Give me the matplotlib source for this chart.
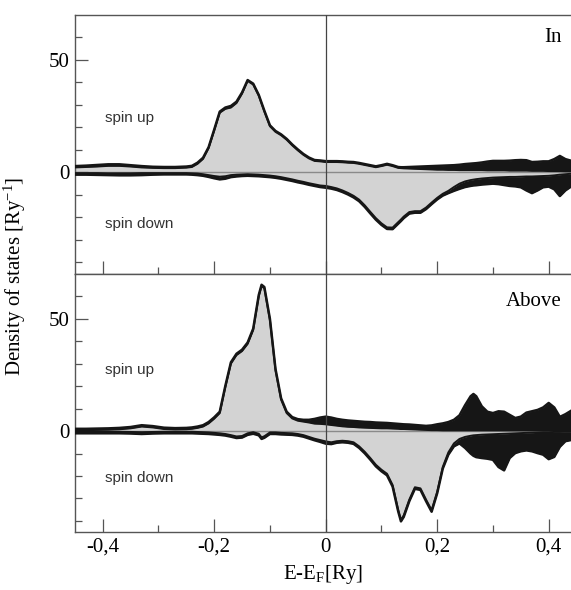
import matplotlib
matplotlib.use("Agg")
import matplotlib.pyplot as plt
import numpy as np

plt.rcParams["font.family"] = ["Liberation Serif", "DejaVu Serif"]
plt.rcParams["mathtext.fontset"] = "custom"
plt.rcParams["mathtext.rm"] = "Liberation Serif"
plt.rcParams["mathtext.it"] = "Liberation Serif:italic"

# energy grid E-E_F [Ry]
energy = [-0.45, -0.43, -0.41, -0.39, -0.37, -0.35, -0.33, -0.31, -0.29, -0.27,
          -0.25, -0.24, -0.23, -0.22, -0.21, -0.20, -0.19, -0.18, -0.17, -0.16,
          -0.15, -0.14, -0.13, -0.12, -0.115, -0.11, -0.10, -0.09, -0.08, -0.07,
          -0.06, -0.05, -0.04, -0.03, -0.02, -0.01, 0.00, 0.01, 0.02, 0.03,
          0.04, 0.05, 0.06, 0.07, 0.08, 0.09, 0.10, 0.11, 0.12, 0.13,
          0.135, 0.14, 0.15, 0.16, 0.17, 0.18, 0.19, 0.20, 0.21, 0.22,
          0.23, 0.24, 0.25, 0.26, 0.265, 0.27, 0.28, 0.29, 0.30, 0.31,
          0.32, 0.33, 0.34, 0.35, 0.36, 0.37, 0.38, 0.39, 0.40, 0.41,
          0.42, 0.43, 0.44]

# panel "In": partial (gray) and total (black) DOS
in_up_part = [2.2, 2.4, 2.6, 2.9, 2.9, 2.6, 2.2, 2.0, 1.9, 1.9,
              2.1, 2.4, 3.8, 6.0, 10.8, 18.5, 26.5, 28.2, 28.8, 30.8,
              35.0, 40.6, 39.0, 34.0, 30.5, 27.0, 20.5, 18.0, 16.5, 14.5,
              12.0, 9.8, 7.8, 6.2, 5.1, 4.9, 4.6, 4.6, 4.6, 4.5,
              4.3, 4.2, 3.8, 3.3, 2.8, 2.3, 2.8, 3.4, 2.8, 2.0,
              1.9, 1.8, 1.7, 1.6, 1.5, 1.4, 1.3, 1.2, 1.2, 1.1,
              1.1, 1.0, 1.0, 1.0, 1.0, 1.0, 1.0, 0.9, 0.9, 0.9,
              0.9, 0.8, 0.8, 0.8, 0.8, 0.7, 0.7, 0.7, 0.6, 0.6,
              0.6, 0.5, 0.5]
in_up_total = [2.8, 3.0, 3.3, 3.6, 3.6, 3.2, 2.8, 2.5, 2.4, 2.4,
               2.6, 2.9, 4.3, 6.5, 11.2, 19.0, 27.0, 28.8, 29.5, 31.4,
               35.5, 41.0, 39.4, 34.4, 30.9, 27.4, 20.9, 18.4, 16.9, 14.9,
               12.4, 10.2, 8.2, 6.6, 5.5, 5.3, 5.0, 5.0, 5.0, 4.9,
               4.7, 4.6, 4.2, 3.7, 3.2, 2.7, 3.2, 3.8, 3.2, 2.4,
               2.3, 2.3, 2.4, 2.5, 2.6, 2.7, 2.8, 2.9, 3.0, 3.1,
               3.2, 3.4, 3.7, 3.9, 4.0, 4.1, 4.4, 4.8, 5.1, 5.1,
               5.1, 5.2, 5.4, 5.5, 5.4, 4.6, 4.7, 4.9, 4.9, 5.9,
               7.3, 5.9, 5.2]
in_dn_part = [-0.3, -0.3, -0.3, -0.4, -0.4, -0.4, -0.3, -0.3, -0.3, -0.3,
              -0.3, -0.4, -0.5, -0.8, -1.2, -1.6, -1.9, -1.7, -1.2, -1.0,
              -0.9, -0.8, -0.9, -1.0, -1.1, -1.2, -1.4, -1.7, -2.1, -2.6,
              -3.1, -3.7, -4.2, -4.8, -5.3, -5.8, -6.0, -6.5, -7.1, -8.0,
              -9.1, -10.4, -12.1, -14.6, -17.5, -20.3, -22.6, -24.4, -24.5, -22.1,
              -20.9, -19.6, -17.6, -17.2, -17.2, -15.6, -13.4, -11.3, -9.5, -8.2,
              -6.5, -5.0, -4.0, -3.4, -3.2, -3.0, -2.7, -2.5, -2.3, -2.2,
              -2.1, -2.0, -2.0, -1.9, -1.8, -1.8, -1.7, -1.6, -1.5, -1.3,
              -1.0, -0.8, -0.6]
in_dn_total = [-1.0, -1.0, -1.1, -1.2, -1.3, -1.3, -1.2, -1.0, -0.9, -0.9,
               -0.9, -1.0, -1.2, -1.5, -2.0, -2.6, -3.1, -2.8, -2.1, -1.8,
               -1.6, -1.5, -1.6, -1.7, -1.8, -1.9, -2.1, -2.4, -2.8, -3.3,
               -3.8, -4.4, -4.9, -5.5, -6.0, -6.5, -6.8, -7.2, -7.8, -8.7,
               -9.8, -11.1, -12.8, -15.3, -18.2, -21.0, -23.3, -25.1, -25.2, -22.8,
               -21.6, -20.3, -18.3, -17.9, -17.9, -16.3, -14.1, -12.0, -10.3, -9.2,
               -8.2, -7.3, -6.5, -6.0, -5.8, -5.7, -5.4, -5.2, -5.0, -5.2,
               -5.6, -6.0, -6.2, -6.6, -8.0, -9.2, -8.0, -6.6, -6.3, -7.5,
               -10.5, -8.0, -6.3]

# panel "Above"
ab_up_part = [0.4, 0.4, 0.5, 0.6, 0.8, 1.2, 2.0, 1.6, 0.9, 0.7,
              0.8, 1.0, 1.4, 2.0, 3.4, 5.5, 8.0, 19.5, 30.0, 33.8,
              35.6, 38.8, 45.0, 60.0, 64.5, 63.5, 49.3, 27.0, 14.0, 8.0,
              5.6, 4.6, 4.2, 3.8, 3.3, 3.2, 3.0, 2.7, 2.4, 2.1,
              1.9, 1.8, 1.6, 1.5, 1.4, 1.3, 1.2, 1.2, 1.1, 1.0,
              0.9, 0.9, 0.8, 0.7, 0.6, 0.5, 0.4, 0.4, 0.3, 0.3,
              0.3, 0.3, 0.3, 0.3, 0.3, 0.3, 0.3, 0.3, 0.3, 0.3,
              0.3, 0.3, 0.3, 0.3, 0.3, 0.3, 0.3, 0.3, 0.3, 0.3,
              0.3, 0.3, 0.3]
ab_up_total = [1.0, 1.0, 1.1, 1.2, 1.4, 1.8, 2.6, 2.2, 1.5, 1.3,
               1.4, 1.6, 2.0, 2.6, 4.0, 6.1, 8.6, 20.1, 30.6, 34.4,
               36.2, 39.4, 45.6, 60.6, 65.1, 64.1, 49.9, 27.6, 14.6, 8.6,
               6.2, 5.3, 5.0, 5.0, 5.4, 6.0, 6.4, 6.0, 5.4, 5.0,
               4.7, 4.5, 4.3, 4.1, 4.0, 3.8, 3.7, 3.6, 3.4, 3.2,
               3.1, 3.0, 2.9, 2.7, 2.5, 2.3, 2.5, 3.0, 3.4, 4.0,
               5.0, 7.0, 11.5, 15.5, 16.5, 15.5, 11.0, 8.6, 8.0, 8.8,
               8.6, 7.2, 5.8, 6.4, 8.2, 8.8, 9.4, 10.5, 12.5, 10.5,
               6.3, 7.5, 9.0]
ab_dn_part = [-0.3, -0.3, -0.3, -0.3, -0.3, -0.4, -0.5, -0.4, -0.3, -0.3,
              -0.3, -0.3, -0.4, -0.5, -0.6, -0.8, -1.0, -1.3, -1.8, -2.4,
              -2.2, -1.0, -0.5, -1.2, -2.8, -2.3, -0.6, -0.6, -0.8, -0.9,
              -1.0, -1.3, -1.8, -2.6, -3.4, -4.0, -4.6, -5.0, -4.5, -4.3,
              -4.5, -5.0, -6.8, -9.2, -12.0, -15.0, -17.2, -19.0, -24.0, -35.0,
              -39.5, -37.5, -30.5, -25.0, -25.5, -30.5, -35.2, -27.0, -16.0, -9.5,
              -5.5, -3.5, -2.6, -2.1, -1.9, -1.8, -1.6, -1.5, -1.4, -1.3,
              -1.2, -1.1, -1.0, -0.9, -0.8, -0.7, -0.6, -0.5, -0.5, -0.4,
              -0.4, -0.3, -0.3]
ab_dn_total = [-1.0, -1.0, -1.0, -1.0, -1.0, -1.1, -1.3, -1.1, -1.0, -1.0,
               -1.0, -1.0, -1.1, -1.2, -1.3, -1.5, -1.7, -2.0, -2.5, -3.1,
               -2.9, -1.7, -1.2, -1.9, -3.5, -3.0, -1.3, -1.3, -1.5, -1.6,
               -1.7, -2.0, -2.5, -3.3, -4.1, -4.8, -5.6, -5.8, -5.2, -5.0,
               -5.2, -5.7, -7.5, -9.9, -12.7, -15.7, -17.9, -19.7, -24.7, -35.7,
               -40.2, -38.2, -31.2, -25.7, -26.2, -31.2, -35.9, -27.7, -16.7, -10.5,
               -6.8, -5.5, -7.5, -10.0, -11.0, -11.6, -12.0, -12.3, -12.8, -16.0,
               -17.5, -12.0, -9.8, -9.0, -8.6, -9.0, -9.8, -10.5, -12.5, -11.5,
               -7.0, -4.5, -4.0]

panel_names = ["In", "Above"]
xtick_pos = [-0.4, -0.2, 0.0, 0.2, 0.4]
xtick_labels = ["-0,4", "-0,2", "0", "0,2", "0,4"]

GRAY = "#d3d3d3"
DARK = "#161616"
SPINE = "#555555"

fig = plt.figure(figsize=(5.71, 5.90), dpi=100)
ax_top = fig.add_axes([0.131, 0.536, 0.869, 0.439])
ax_bot = fig.add_axes([0.131, 0.098, 0.869, 0.438])

panels = [
    (ax_top, in_up_part, in_up_total, in_dn_part, in_dn_total),
    (ax_bot, ab_up_part, ab_up_total, ab_dn_part, ab_dn_total),
]

x = np.array(energy)
for i, (ax, up_p, up_t, dn_p, dn_t) in enumerate(panels):
    for part, total in [(up_p, up_t), (dn_p, dn_t)]:
        part = np.array(part)
        total = np.array(total)
        ax.fill_between(x, 0, part, color=GRAY, lw=0, zorder=1)
        ax.fill_between(x, part, total, color=DARK, lw=0, zorder=3)
        ax.plot(x, total, color=DARK, lw=1.8, zorder=4, solid_joinstyle="round")
        ax.plot(x, part, color=DARK, lw=1.4, zorder=4, solid_joinstyle="round")
    ax.axhline(0, color="#8a8a8a", lw=1.0, zorder=2)
    ax.axvline(0, color="#444444", lw=0.9, zorder=5)

    ax.set_xlim(-0.45, 0.44)
    ax.set_ylim(-45, 70)
    ax.set_yticks([0, 50])
    ax.set_yticks(np.arange(-40, 70, 10), minor=True)
    ax.set_yticklabels(["0", "50"], fontsize=15)
    ax.set_xticks(xtick_pos)
    ax.set_xticks([-0.3, -0.1, 0.1, 0.3], minor=True)
    if i == 1:
        ax.set_xticklabels(xtick_labels, fontsize=15)
    else:
        ax.set_xticklabels([])
    ax.tick_params(which="major", direction="in", length=9.5, width=0.9,
                   color=SPINE, top=False, right=False, pad=4)
    ax.tick_params(which="minor", direction="in", length=5, width=0.9,
                   color=SPINE, top=False, right=False)
    for side, sp in ax.spines.items():
        sp.set_color(SPINE)
        sp.set_linewidth(1.0)
    ax.spines["right"].set_visible(False)

    ax.text(0.423, 60 if i == 0 else 57.5, panel_names[i], fontsize=15,
            ha="right", va="center")
    ax.text(-0.395, 24 if i == 0 else 27, "spin up", fontsize=11,
            family=["Liberation Sans", "DejaVu Sans"], color="#333333",
            ha="left", va="center")
    ax.text(-0.395, -23 if i == 0 else -21, "spin down", fontsize=11,
            family=["Liberation Sans", "DejaVu Sans"], color="#333333",
            ha="left", va="center")

fig.text(0.026, 0.532, "Density of states [Ry$^{-1}$]", rotation=90,
         fontsize=15, ha="center", va="center")
fig.text(0.566, 0.027, "E-E$_{\\mathrm{F}}$[Ry]", fontsize=15,
         ha="center", va="center")

fig.savefig("out.png", dpi=100)
plt.close(fig)
